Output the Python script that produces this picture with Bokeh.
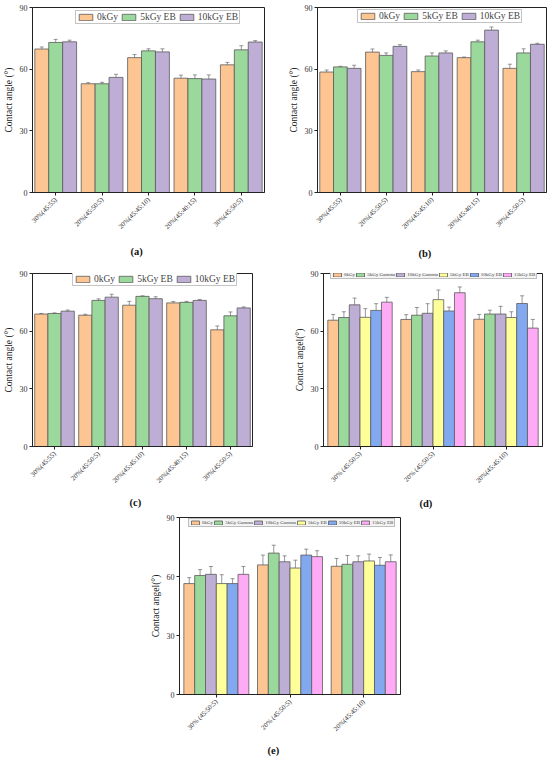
import math
from bokeh.plotting import figure
from bokeh.models import (ColumnDataSource, FactorRange, Range1d, Whisker,
                          Legend, LegendItem, FixedTicker)
from bokeh.transform import dodge
from bokeh.layouts import column, row
from bokeh.embed import file_html
from bokeh.resources import INLINE

# ---------------- data ----------------
y_ticks = [0, 30, 60, 90]

cats_abc = ["30%(45:55)", "20%(45:50:5)", "20%(45:45:10)", "20%(45:40:15)", "30%(45:50:5)"]
series_abc = ["0kGy", "5kGy EB", "10kGy EB"]

a_0kGy = [69.8, 52.9, 65.6, 55.6, 62.1]
a_5kGy = [73.0, 52.9, 68.9, 55.4, 69.4]
a_10kGy = [73.3, 56.0, 68.4, 55.2, 73.2]
a_0kGy_err = [1.0, 0.5, 1.5, 1.5, 1.2]
a_5kGy_err = [1.5, 0.7, 1.0, 1.8, 2.0]
a_10kGy_err = [0.8, 1.5, 1.5, 2.0, 0.7]

b_0kGy = [58.6, 68.3, 58.8, 65.6, 60.4]
b_5kGy = [61.1, 66.7, 66.4, 73.3, 67.9]
b_10kGy = [60.4, 71.1, 67.9, 79.0, 72.1]
b_0kGy_err = [1.0, 1.5, 0.8, 0.3, 2.0]
b_5kGy_err = [0.3, 1.2, 1.5, 0.8, 2.0]
b_10kGy_err = [1.5, 0.8, 1.0, 1.5, 0.5]

c_0kGy = [68.9, 68.3, 73.5, 74.7, 60.7]
c_5kGy = [69.2, 76.0, 78.1, 75.0, 68.0]
c_10kGy = [70.4, 77.7, 76.9, 76.0, 72.1]
c_0kGy_err = [0.3, 0.5, 2.0, 0.7, 2.0]
c_5kGy_err = [0.3, 0.8, 0.3, 0.5, 2.0]
c_10kGy_err = [0.6, 1.5, 1.0, 0.5, 0.5]

cats_de = ["30% (45:50:5)", "20% (45:50:5)", "20%(45:45:10)"]
series_de = ["0kGy", "5kGy Gamma", "10kGy Gamma", "5kGy EB", "10kGy EB", "15kGy EB"]

d_vals = [
    [65.7, 66.1, 66.2],   # 0kGy
    [67.1, 68.3, 68.9],   # 5kGy Gamma
    [73.7, 69.3, 68.9],   # 10kGy Gamma
    [67.2, 76.4, 67.1],   # 5kGy EB
    [70.8, 70.5, 74.4],   # 10kGy EB
    [75.1, 80.0, 61.6],   # 15kGy EB
]
d_errs = [
    [3.0, 2.5, 2.5],
    [3.0, 4.0, 2.0],
    [3.5, 5.0, 4.0],
    [4.5, 5.0, 3.0],
    [3.5, 2.0, 4.0],
    [2.5, 3.0, 4.5],
]

e_vals = [
    [56.4, 65.9, 65.2],
    [60.5, 71.9, 66.2],
    [61.1, 67.5, 67.5],
    [56.4, 64.3, 67.9],
    [56.4, 70.9, 65.7],
    [61.1, 70.1, 67.5],
]
e_errs = [
    [3.0, 5.0, 4.0],
    [3.0, 4.0, 4.5],
    [4.0, 3.0, 3.0],
    [4.5, 4.0, 3.5],
    [2.5, 3.0, 4.0],
    [4.0, 3.0, 3.5],
]

colors3 = ["#FDC592", "#9AD89C", "#BEAED6"]
colors6 = ["#FDC592", "#9AD89C", "#BEAED6", "#FFFF99", "#82A9F0", "#FFAAF5"]

# ---------------- drawing ----------------
FONT = "Liberation Serif"


def panel(cats, names, vals, errs, colors, bw, ylabel, tag, geo):
    W, H, L, R, T, B = geo["box"]
    p = figure(width=W, height=H,
               x_range=FactorRange(*cats), y_range=Range1d(0, 90),
               output_backend="svg", toolbar_location=None,
               title=tag, title_location="below",
               min_border_left=L, min_border_right=R,
               min_border_top=T, min_border_bottom=B)
    p.background_fill_color = "white"
    p.border_fill_color = "white"
    p.outline_line_color = "#222222"
    p.outline_line_width = 1
    p.xgrid.visible = False
    p.ygrid.visible = False

    p.yaxis.ticker = FixedTicker(ticks=y_ticks)
    p.yaxis.minor_tick_line_color = None
    p.yaxis.major_tick_in = 0
    p.yaxis.major_tick_out = 3
    p.yaxis.major_label_standoff = 2
    p.yaxis.axis_label = ylabel
    p.yaxis.axis_label_text_font = FONT
    p.yaxis.axis_label_text_font_style = "normal"
    p.yaxis.axis_label_text_font_size = "9.5px"
    p.yaxis.axis_label_standoff = 3
    p.yaxis.major_label_text_font = FONT
    p.yaxis.major_label_text_font_size = "8px"

    p.xaxis.major_tick_in = 0
    p.xaxis.major_tick_out = 3
    p.xaxis.minor_tick_line_color = None
    p.xaxis.major_label_orientation = math.pi / 4
    p.xaxis.major_label_standoff = 3
    p.xaxis.major_label_text_font = FONT
    p.xaxis.major_label_text_font_size = "6.8px"
    for ax in (p.xaxis, p.yaxis):
        ax.axis_line_color = "#222222"
        ax.major_tick_line_color = "#222222"
        ax.major_label_text_color = "#333333"
        ax.axis_label_text_color = "#222222"

    n = len(names)
    items = []
    for i in range(n):
        off = (i - (n - 1) / 2) * bw
        v = vals[i]
        e = errs[i]
        src = ColumnDataSource(dict(cat=list(cats), top=v,
                                    up=[a + b for a, b in zip(v, e)],
                                    lo=[a - b for a, b in zip(v, e)]))
        r = p.vbar(x=dodge("cat", off, range=p.x_range), top="top", bottom=0,
                   width=bw, source=src, fill_color=colors[i],
                   line_color="#5a5a5a", line_width=0.8)
        w = Whisker(base=dodge("cat", off, range=p.x_range), upper="up",
                    lower="lo", source=src, line_color="#6a6a6a", line_width=0.7)
        for h in (w.upper_head, w.lower_head):
            h.size = geo["head"]
            h.line_color = "#6a6a6a"
            h.line_width = 0.7
        p.add_layout(w)
        items.append(LegendItem(label=names[i], renderers=[r]))

    lx, ly, gw, gh, fs, so, lh, sp, bg = geo["legend"]
    frame_h = H - T - B
    leg = Legend(items=items, orientation="horizontal",
                 location=(lx, frame_h - ly - lh),
                 glyph_width=gw, glyph_height=gh,
                 label_text_font=FONT, label_text_font_size=fs,
                 label_standoff=so, label_height=gh, label_width=0,
                 spacing=sp, padding=1, margin=0,
                 border_line_color="#8a8a8a", border_line_width=0.8,
                 background_fill_color=bg, background_fill_alpha=1.0)
    p.add_layout(leg)

    p.title.align = "left"
    p.title.offset = geo["tag_off"]
    p.title.standoff = geo["tag_standoff"]
    p.title.text_font = FONT
    p.title.text_font_style = "bold"
    p.title.text_font_size = "10.5px"
    p.title.text_color = "#111111"
    return p


fa = panel(cats_abc, series_abc, [a_0kGy, a_5kGy, a_10kGy],
           [a_0kGy_err, a_5kGy_err, a_10kGy_err], colors3, 0.3,
           "Contact angle (°)", "(a)",
           dict(box=(275, 268, 30, 11, 6, 73), head=4,
                legend=(43, 10, 17, 8, "9.5px", 3, 11, 2, "white"),
                tag_off=98, tag_standoff=17))
fb = panel(cats_abc, series_abc, [b_0kGy, b_5kGy, b_10kGy],
           [b_0kGy_err, b_5kGy_err, b_10kGy_err], colors3, 0.3,
           "Contact angle (°)", "(b)",
           dict(box=(275, 268, 42, 4, 7, 76), head=4,
                legend=(40, 5, 17, 8, "9.5px", 3, 11, 2, "white"),
                tag_off=101, tag_standoff=20))
fc = panel(cats_abc, series_abc, [c_0kGy, c_5kGy, c_10kGy],
           [c_0kGy_err, c_5kGy_err, c_10kGy_err], colors3, 0.3,
           "Contact angle (°)", "(c)",
           dict(box=(275, 246, 32, 23, 5, 65), head=4,
                legend=(40, 5, 17, 8, "9.5px", 3, 11, 2, "white"),
                tag_off=97, tag_standoff=11))
fd = panel(cats_de, series_de, d_vals, d_errs, colors6, 0.147,
           "Contact angel(°)", "(d)",
           dict(box=(275, 246, 48, 8, 4, 66), head=4,
                legend=(7, 1, 10, 5, "5px", 2, 8, 0, "#f3f3f3"),
                tag_off=96, tag_standoff=12))
fe = panel(cats_de, series_de, e_vals, e_errs, colors6, 0.147,
           "Contact angel(°)", "(e)",
           dict(box=(550, 248, 179, 150, 3, 68), head=4,
                legend=(9, 2, 10, 5, "5px", 2, 8, 0, "#f3f3f3"),
                tag_off=88, tag_standoff=10))

layout = column(row(fa, fb), row(fc, fd), fe,
                styles={"position": "absolute", "left": "0px", "top": "0px"})
open("out.html", "w").write(file_html(layout, INLINE))
